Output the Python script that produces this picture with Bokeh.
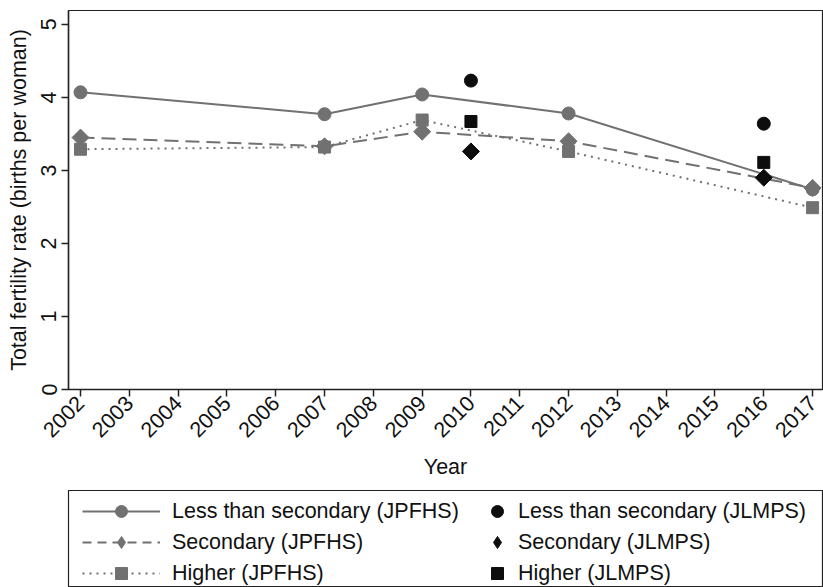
from bokeh.plotting import figure
from bokeh.models import Range1d, Legend, LegendItem, FixedTicker
from bokeh.layouts import column
from bokeh.embed import file_html
from bokeh.resources import INLINE
import math

# ---- data ----
years_jpfhs = [2002, 2007, 2009, 2012, 2017]
less_jpfhs = [4.07, 3.77, 4.04, 3.78, 2.74]
sec_jpfhs = [3.45, 3.33, 3.53, 3.40, 2.76]
higher_jpfhs = [3.29, 3.32, 3.69, 3.26, 2.49]

years_jlmps = [2010, 2016]
less_jlmps = [4.23, 3.64]
sec_jlmps = [3.26, 2.90]
higher_jlmps = [3.67, 3.11]

x_ticks = list(range(2002, 2018))
y_ticks = [0, 1, 2, 3, 4, 5]

GREY = "#717171"
BLACK = "#0d0d0d"
FONT = "Liberation Sans"
FS = "21.5px"
DIAMOND = dict(marker="square", angle=math.pi / 4, size=12)
LEG_DIAMOND = dict(marker="diamond", size=24)

p = figure(width=823, height=490, output_backend="svg", toolbar_location=None,
           x_range=Range1d(2001.754, 2017.203), y_range=Range1d(0, 5.19),
           min_border_left=67, min_border_right=1, min_border_top=10, min_border_bottom=101)
p.grid.visible = False
p.outline_line_color = "#222222"
p.outline_line_width = 1.2
p.background_fill_color = "white"
p.border_fill_color = "white"

for ax in (p.xaxis[0], p.yaxis[0]):
    ax.axis_line_color = "#222222"
    ax.axis_line_width = 1.5
    ax.major_tick_line_color = "#222222"
    ax.major_tick_line_width = 1.5
    ax.major_tick_out = 7
    ax.major_tick_in = 0
    ax.minor_tick_line_color = None
    ax.major_label_text_font = FONT
    ax.major_label_text_font_size = FS
    ax.major_label_text_color = "#111111"
    ax.axis_label_text_font = FONT
    ax.axis_label_text_font_size = FS
    ax.axis_label_text_font_style = "normal"
    ax.axis_label_text_color = "#111111"

p.xaxis.ticker = FixedTicker(ticks=x_ticks)
p.xaxis.major_label_orientation = math.pi / 4
p.xaxis.axis_label = "Year"
p.xaxis.major_label_standoff = 3
p.xaxis.axis_label_standoff = 8

p.yaxis.ticker = FixedTicker(ticks=y_ticks)
p.yaxis.major_label_orientation = "vertical"
p.yaxis.axis_label = "Total fertility rate (births per woman)"
p.yaxis.major_label_standoff = 5
p.yaxis.axis_label_standoff = 8

# JPFHS series
p.line(years_jpfhs, less_jpfhs, line_color=GREY, line_width=2)
p.scatter(years_jpfhs, less_jpfhs, marker="circle", size=13, fill_color=GREY, line_color=GREY)
p.line(years_jpfhs, sec_jpfhs, line_color=GREY, line_width=2, line_dash="14 7")
p.scatter(years_jpfhs, sec_jpfhs, fill_color=GREY, line_color=GREY, **DIAMOND)
p.line(years_jpfhs, higher_jpfhs, line_color=GREY, line_width=2, line_dash="2 5")
p.scatter(years_jpfhs, higher_jpfhs, marker="square", size=12, fill_color=GREY, line_color=GREY)

# JLMPS points
p.scatter(years_jlmps, less_jlmps, marker="circle", size=13, fill_color=BLACK, line_color=BLACK)
p.scatter(years_jlmps, sec_jlmps, fill_color=BLACK, line_color=BLACK, **DIAMOND)
p.scatter(years_jlmps, higher_jlmps, marker="square", size=12, fill_color=BLACK, line_color=BLACK)

# ---- legend panel (its renderers sit outside the visible range; only the legend shows) ----
lg = figure(width=823, height=97, output_backend="svg", toolbar_location=None,
            x_range=Range1d(0, 1), y_range=Range1d(0, 1),
            x_axis_type=None, y_axis_type=None,
            min_border_left=68, min_border_right=1, min_border_top=0, min_border_bottom=0)
lg.grid.visible = False
lg.outline_line_color = "#222222"
lg.outline_line_width = 1.2
lg.background_fill_color = "white"
lg.border_fill_color = "white"

e1l = lg.line(years_jpfhs, less_jpfhs, line_color=GREY, line_width=2)
e1s = lg.scatter(years_jpfhs, less_jpfhs, marker="circle", size=13, fill_color=GREY, line_color=GREY)
e2l = lg.line(years_jpfhs, sec_jpfhs, line_color=GREY, line_width=2, line_dash="9 6")
e2s = lg.scatter(years_jpfhs, sec_jpfhs, fill_color=GREY, line_color=GREY, **LEG_DIAMOND)
e3l = lg.line(years_jpfhs, higher_jpfhs, line_color=GREY, line_width=2, line_dash="2 5")
e3s = lg.scatter(years_jpfhs, higher_jpfhs, marker="square", size=12, fill_color=GREY, line_color=GREY)
f1 = lg.scatter(years_jlmps, less_jlmps, marker="circle", size=13, fill_color=BLACK, line_color=BLACK)
f2 = lg.scatter(years_jlmps, sec_jlmps, fill_color=BLACK, line_color=BLACK, **LEG_DIAMOND)
f3 = lg.scatter(years_jlmps, higher_jlmps, marker="square", size=12, fill_color=BLACK, line_color=BLACK)

def style(leg):
    leg.label_text_font = FONT
    leg.label_text_font_size = FS
    leg.label_text_color = "#111111"
    leg.border_line_alpha = 0
    leg.background_fill_alpha = 0
    leg.padding = 0
    leg.margin = 0
    leg.glyph_height = 30
    leg.label_height = 30
    leg.spacing = 1

leg1 = Legend(items=[
    LegendItem(label="Less than secondary (JPFHS)", renderers=[e1l, e1s]),
    LegendItem(label="Secondary (JPFHS)", renderers=[e2l, e2s]),
    LegendItem(label="Higher (JPFHS)", renderers=[e3l, e3s]),
], location=(14, -1))
style(leg1)
leg1.glyph_width = 78
leg1.label_standoff = 12

leg2 = Legend(items=[
    LegendItem(label="Less than secondary (JLMPS)", renderers=[f1]),
    LegendItem(label="Secondary (JLMPS)", renderers=[f2]),
    LegendItem(label="Higher (JLMPS)", renderers=[f3]),
], location=(414, -1))
style(leg2)
leg2.glyph_width = 30
leg2.label_standoff = 6

lg.add_layout(leg1, "center")
lg.add_layout(leg2, "center")

layout = column(p, lg, spacing=0)
open("out.html", "w").write(file_html(layout, INLINE))
